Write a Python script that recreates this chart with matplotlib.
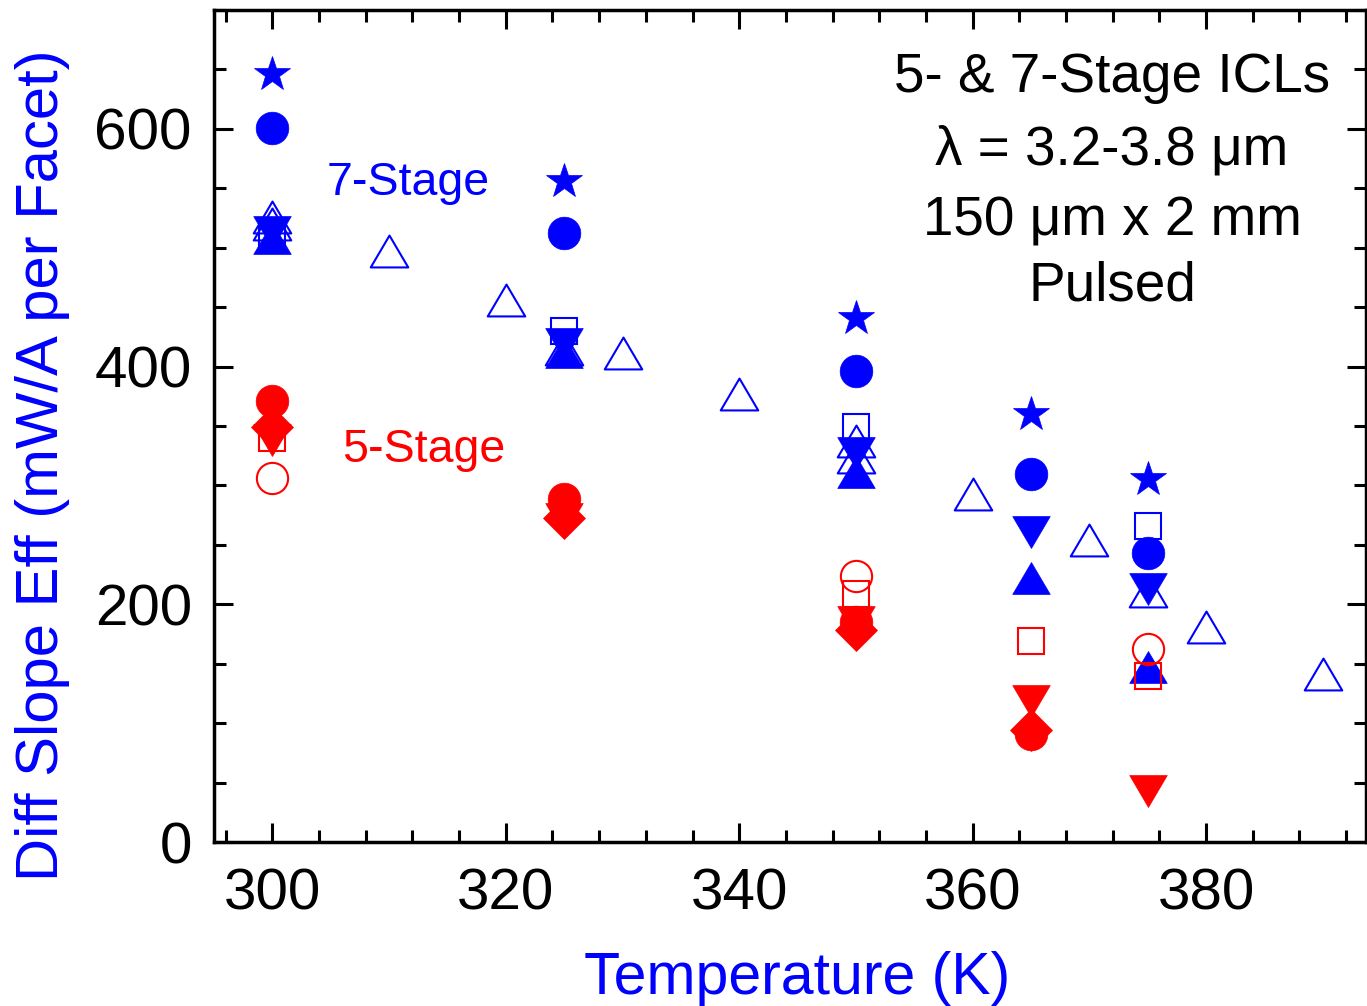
import numpy as np
import matplotlib
matplotlib.use("Agg")
import matplotlib.pyplot as plt
from matplotlib.path import Path
from matplotlib.ticker import MultipleLocator

plt.rcParams['font.family'] = ['Liberation Sans', 'DejaVu Sans']

# temperatures of the device sets (K)
temps = [300, 325, 350, 365, 375]
temps_10k = [300, 310, 320, 330, 340, 350, 360, 370, 380, 390]

# 7-stage devices (mW/A per facet)
b_star = [646, 556, 441, 360, 305]
b_circle = [601, 512, 396, 310, 243]
b_square_open = [510, 430, 349, np.nan, 266]
b_tri_down = [513, 419, 327, 261, 213]
b_tri_up = [508, 412, 311, 222, 147]
b_tri_open = [520, 415, 324, np.nan, 211]
b_tri_open_10k = [526, 497, 456, 411, 377, 337, 293, 254, 181, 141]

# 5-stage devices
r_circle = [371, 289, 185, 91, np.nan]
r_diamond = [349, 273, 178, 94, np.nan]
r_tri_down = [338, 272, 185, 119, 43]
r_square_open = [340, np.nan, 209, 169, 140]
r_circle_open = [306, np.nan, 224, np.nan, 162]

BLUE = '#0000ff'
RED = '#ff0000'

# slightly flattened triangles
tri_up = Path([(-1, -0.85), (1, -0.85), (0, 0.85), (-1, -0.85)],
              [Path.MOVETO, Path.LINETO, Path.LINETO, Path.CLOSEPOLY])
tri_down = Path([(-1, 0.85), (1, 0.85), (0, -0.85), (-1, 0.85)],
                [Path.MOVETO, Path.LINETO, Path.LINETO, Path.CLOSEPOLY])

fig = plt.figure(figsize=(13.67, 10.06), dpi=100)
ax = fig.add_axes([214 / 1367, 1 - 842 / 1006, 1152 / 1367, 832 / 1006])

def pts(x, y, marker, color, ms, filled=True, lw=1.5):
    ax.plot(x, y, linestyle='none', marker=marker, markersize=ms,
            markerfacecolor=color if filled else 'none',
            markeredgecolor=color, markeredgewidth=lw if not filled else 0.5)

# 7-stage
pts(temps_10k, b_tri_open_10k, tri_up, BLUE, 27, filled=False)
pts(temps, b_tri_open, tri_up, BLUE, 27, filled=False)
pts(temps, b_square_open, 's', BLUE, 18.5, filled=False)
pts(temps, b_circle, 'o', BLUE, 23.5)
pts(temps, b_star, '*', BLUE, 26.5)
pts(temps, b_tri_down, tri_down, BLUE, 27)
pts(temps, b_tri_up, tri_up, BLUE, 27)

# 5-stage
pts(temps, r_circle, 'o', RED, 23.5)
pts(temps, r_diamond, 'D', RED, 21)
pts(temps, r_tri_down, tri_down, RED, 27)
pts(temps, r_square_open, 's', RED, 18.5, filled=False)
pts(temps, r_circle_open, 'o', RED, 22.5, filled=False)

ax.set_xlim(295, 393.7)
ax.set_ylim(0, 700)
ax.xaxis.set_major_locator(MultipleLocator(20))
ax.xaxis.set_minor_locator(MultipleLocator(4))
ax.yaxis.set_major_locator(MultipleLocator(200))
ax.yaxis.set_minor_locator(MultipleLocator(50))

ax.tick_params(which='both', direction='in', top=True, right=True,
               width=2.2, labelsize=42)
ax.tick_params(which='major', length=14)
ax.tick_params(which='minor', length=8.5)
ax.tick_params(axis='x', pad=18)
ax.tick_params(axis='y', pad=16)
for sp in ax.spines.values():
    sp.set_linewidth(2.5)

ax.set_xlabel('Temperature (K)', fontsize=42.5, color=BLUE)
ax.xaxis.set_label_coords(0.506, -0.131)
ax.set_ylabel('Diff Slope Eff (mW/A per Facet)', fontsize=43, color=BLUE)
ax.yaxis.set_label_coords(-0.125, 0.453)

info = ['5- & 7-Stage ICLs', 'λ = 3.2-3.8 μm', '150 μm x 2 mm', 'Pulsed']
for line, yb in zip(info, [0.901, 0.8148, 0.729, 0.651]):
    ax.text(0.7795, yb, line, transform=ax.transAxes, ha='center',
            va='baseline', fontsize=39.5, color='black')

ax.text(0.1684, 0.7776, '7-Stage', transform=ax.transAxes, ha='center',
        va='baseline', fontsize=33.5, color=BLUE)
ax.text(0.1823, 0.4567, '5-Stage', transform=ax.transAxes, ha='center',
        va='baseline', fontsize=33.5, color=RED)

fig.savefig('out.png', dpi=100)
